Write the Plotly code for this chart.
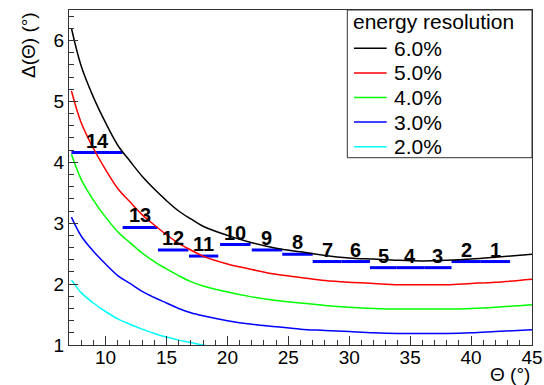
import plotly.graph_objects as go

# Theta grid (degrees)
theta = [7.2, 8, 9, 10, 11, 12, 13, 14, 15, 16, 17, 18, 20, 22, 24, 26, 28, 30, 32, 34, 36, 38, 40, 42, 45]

# Delta(Theta) curves for each energy resolution
res_60 = [6.20, 5.58, 5.07, 4.65, 4.28, 4.02, 3.77, 3.56, 3.37, 3.20, 3.07, 2.95, 2.80, 2.68, 2.59, 2.53, 2.47, 2.43, 2.41, 2.39, 2.38, 2.39, 2.41, 2.44, 2.49]
res_50 = [5.17, 4.65, 4.23, 3.88, 3.57, 3.35, 3.14, 2.97, 2.81, 2.67, 2.56, 2.46, 2.33, 2.24, 2.16, 2.11, 2.06, 2.03, 2.01, 1.99, 1.99, 1.99, 2.01, 2.03, 2.08]
res_40 = [4.13, 3.72, 3.38, 3.10, 2.86, 2.68, 2.51, 2.37, 2.25, 2.14, 2.04, 1.97, 1.87, 1.79, 1.73, 1.69, 1.65, 1.62, 1.60, 1.59, 1.59, 1.59, 1.60, 1.62, 1.66]
res_30 = [3.10, 2.79, 2.54, 2.33, 2.14, 2.01, 1.88, 1.78, 1.69, 1.60, 1.53, 1.48, 1.40, 1.34, 1.30, 1.26, 1.24, 1.22, 1.20, 1.19, 1.19, 1.19, 1.20, 1.22, 1.25]
theta_20 = [7.2, 8, 9, 10, 11, 12, 13, 14, 15, 16, 17, 18, 18.5]
res_20 = [2.07, 1.86, 1.69, 1.55, 1.43, 1.34, 1.26, 1.19, 1.13, 1.08, 1.04, 1.00, 0.98]

series_names = ["6.0%", "5.0%", "4.0%", "3.0%", "2.0%"]
series_colors = ["#000000", "#ff0000", "#00ff00", "#0000ff", "#00ffff"]

# Bins (numbered segments)
bin_labels = ["14", "13", "12", "11", "10", "9", "8", "7", "6", "5", "4", "3", "2", "1"]
bin_lo = [7.2, 11.4, 14.3, 16.85, 19.4, 22.0, 24.5, 27.0, 29.35, 31.7, 33.9, 36.15, 38.4, 40.8]
bin_hi = [11.4, 14.25, 16.8, 19.25, 21.9, 24.5, 27.0, 29.35, 31.7, 33.9, 36.15, 38.4, 40.8, 43.2]
bin_val = [4.16, 2.93, 2.56, 2.46, 2.65, 2.56, 2.49, 2.37, 2.37, 2.27, 2.27, 2.27, 2.37, 2.37]

FONT = "Liberation Sans, Arial, Helvetica, sans-serif"
W, H = 544, 385
ML, MR, MT, MB = 69, 12, 10, 40
PW, PH = W - ML - MR, H - MT - MB


def px2paper_x(px):
    return (px - ML) / PW


def py2paper_y(py):
    return (H - MB - py) / PH


fig = go.Figure()

# bin segments
sx, sy = [], []
for lo, hi, v in zip(bin_lo, bin_hi, bin_val):
    sx += [lo, hi, None]
    sy += [v, v, None]
fig.add_trace(go.Scatter(x=sx, y=sy, mode="lines", line=dict(color="#0000ff", width=3),
                         showlegend=False, hoverinfo="skip"))

curves = [(theta, res_60), (theta, res_50), (theta, res_40), (theta, res_30), (theta_20, res_20)]
for (tx, ty), name, col in zip(curves, series_names, series_colors):
    fig.add_trace(go.Scatter(x=tx, y=ty, mode="lines", name=name, showlegend=False,
                             line=dict(color=col, width=1.5, shape="spline", smoothing=1.0)))

for lab, lo, hi, v in zip(bin_labels, bin_lo, bin_hi, bin_val):
    fig.add_annotation(x=(lo + hi) / 2, y=v, xref="x", yref="y", text="<b>%s</b>" % lab,
                       showarrow=False, yanchor="bottom", xanchor="center", yshift=-1,
                       font=dict(family=FONT, size=20, color="black"))

# axis titles
fig.add_annotation(x=1, y=0, xref="paper", yref="paper", text="Θ (°)", showarrow=False,
                   xanchor="right", yanchor="middle", yshift=-(374.5 - (H - MB)),
                   font=dict(family=FONT, size=19, color="black"))
fig.add_annotation(x=px2paper_x(28), y=1, xref="paper", yref="paper", text="Δ(Θ) (°)", showarrow=False,
                   textangle=-90, xanchor="center", yanchor="top",
                   font=dict(family=FONT, size=19, color="black"))

# legend box (drawn manually to match the reference's compact layout)
fig.add_shape(type="rect", xref="paper", yref="paper",
              x0=px2paper_x(347.3), x1=1.0, y0=py2paper_y(157.7), y1=1.0,
              line=dict(color="#333333", width=1), fillcolor="white", layer="above")
fig.add_annotation(x=px2paper_x(350.5), y=py2paper_y(21.7), xref="paper", yref="paper",
                   text="energy resolution", showarrow=False, xanchor="left", yanchor="middle",
                   font=dict(family=FONT, size=21, color="black"))
row0, step = 48.3, 24.6
for i, (name, col) in enumerate(zip(series_names, series_colors)):
    ry = row0 + i * step
    fig.add_shape(type="line", xref="paper", yref="paper",
                  x0=px2paper_x(354), x1=px2paper_x(386.7), y0=py2paper_y(ry), y1=py2paper_y(ry),
                  line=dict(color=col, width=1.5), layer="above")
    fig.add_annotation(x=px2paper_x(392), y=py2paper_y(ry), xref="paper", yref="paper",
                       text=name, showarrow=False, xanchor="left", yanchor="middle",
                       font=dict(family=FONT, size=21, color="black"))

axis_common = dict(showgrid=False, zeroline=False, showline=True, linecolor="#333333", linewidth=1,
                   mirror=True, ticks="inside", tickcolor="#333333", automargin=False,
                   tickfont=dict(family=FONT, size=19, color="black"))

fig.update_xaxes(range=[7, 45], tick0=10, dtick=5, ticklen=9, ticklabelstandoff=-5,
                 minor=dict(ticks="inside", ticklen=5, dtick=1, tick0=7, tickcolor="#333333"),
                 **axis_common)
fig.update_yaxes(range=[1, 6.5], tick0=1, dtick=1, ticklen=9,
                 minor=dict(ticks="inside", ticklen=5, dtick=0.2, tick0=1, tickcolor="#333333"),
                 **axis_common)

fig.update_layout(
    template="none",
    width=W, height=H,
    margin=dict(l=ML, r=MR, t=MT, b=MB, autoexpand=False),
    plot_bgcolor="white", paper_bgcolor="white",
    font=dict(family=FONT, size=19, color="black"),
    showlegend=False,
)

fig.write_html("out.html", config={"displayModeBar": False},
               post_script="document.body.style.margin='0';")
